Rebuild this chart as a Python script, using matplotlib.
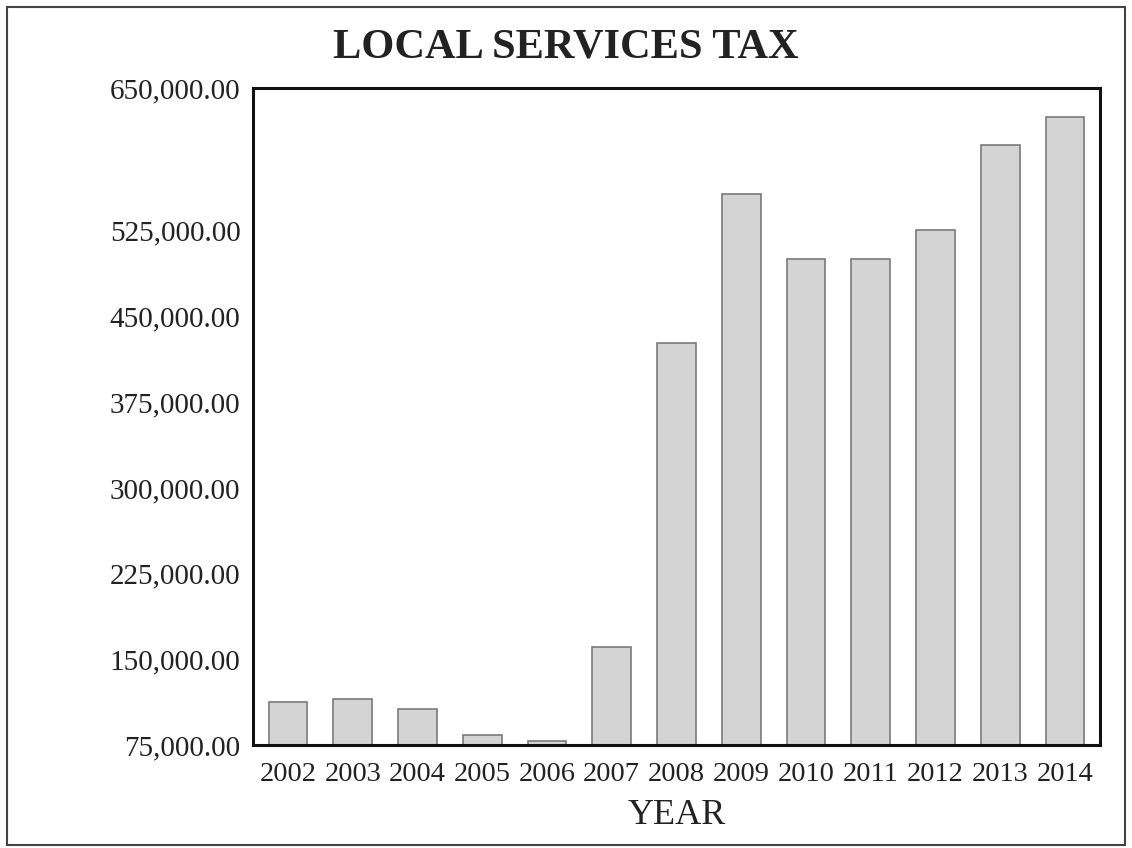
import matplotlib
matplotlib.use("Agg")
import matplotlib.pyplot as plt
from matplotlib.patches import Rectangle

years = ["2002", "2003", "2004", "2005", "2006", "2007", "2008",
         "2009", "2010", "2011", "2012", "2013", "2014"]
tax = [113000, 115000, 106500, 83500, 78500, 161000, 427000,
       557000, 500000, 500000, 526000, 600000, 625000]
yticks = [75000, 150000, 225000, 300000, 375000, 450000, 525000, 650000]

plt.rcParams['font.family'] = ['Liberation Serif', 'DejaVu Serif']

fig = plt.figure(figsize=(11.32, 8.48), dpi=100)
ax = fig.add_axes([0.2235, 0.1215, 0.7482, 0.7747])

x = range(len(years))
ax.bar(x, tax, width=0.6, bottom=0, color='#d4d4d4', edgecolor='#7a7a7a', linewidth=1.2)

ax.set_ylim(75000, 650000)
ax.set_xlim(-0.54, len(years) - 0.46)
ax.set_yticks(yticks)
ax.set_yticklabels(["{:,.2f}".format(v) for v in yticks])
ax.set_xticks(list(x))
ax.set_xticklabels(years)
ax.tick_params(axis='both', length=0, labelsize=21, colors='#222222')
ax.tick_params(axis='y', pad=9)
ax.tick_params(axis='x', labelsize=20.5, pad=12)

for s in ax.spines.values():
    s.set_linewidth(2.2)
    s.set_color('#111111')

ax.set_xlabel("YEAR", fontsize=26, color='#222222', labelpad=9)
fig.text(0.5, 0.944, "LOCAL SERVICES TAX", ha='center', va='center',
         fontsize=30.5, fontweight='bold', color='#222222')

# thin border round the whole chart
fig.patches.append(Rectangle((0.006, 0.004), 0.988, 0.988, transform=fig.transFigure,
                             fill=False, edgecolor='#444444', linewidth=1.5))

fig.savefig("out.png", dpi=100)
